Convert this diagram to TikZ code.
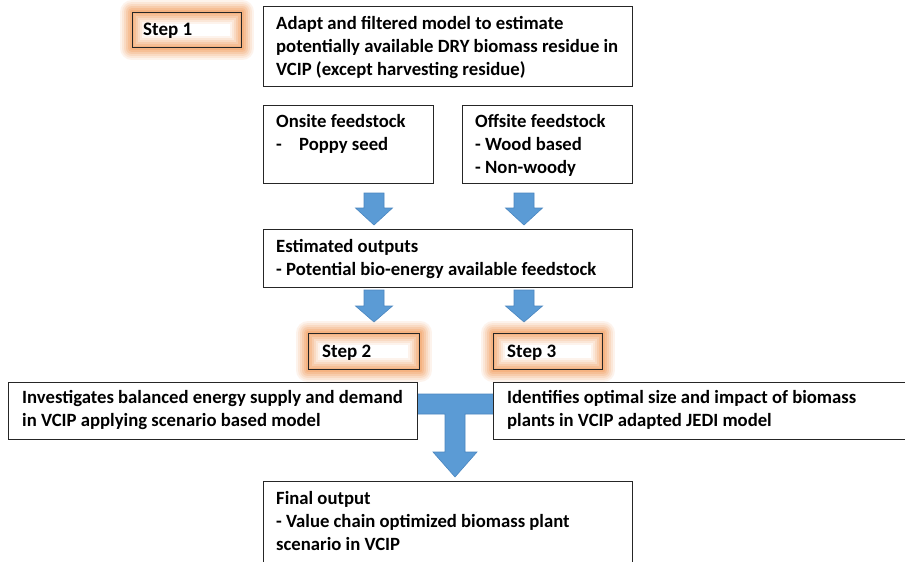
\documentclass[tikz,border=0pt]{standalone}
\usepackage{fontspec}
\setmainfont{Carlito}
\usetikzlibrary{calc}
\definecolor{arrowblue}{HTML}{5B9BD5}
\definecolor{arrowedge}{HTML}{4A86C0}
\definecolor{glow}{HTML}{F4A265}
\definecolor{boxline}{HTML}{262626}

\tikzset{
  box/.style={draw=boxline, line width=1.3pt, fill=white, rectangle, inner sep=0pt, anchor=north west},
  stepframe/.style={box, fill=none},
  txt/.style={anchor=north west, inner sep=0pt, align=left, font=\fontsize{18.7}{23}\selectfont\bfseries},
  steptxt/.style={anchor=north west, inner sep=0pt, font=\fontsize{19}{23}\selectfont\bfseries},
  blockarrow/.style={fill=arrowblue, draw=arrowedge, line width=0.6pt, line join=miter},
}

% soft orange glow drawn round a named step box
\newcommand{\glowbox}[1]{%
  \foreach \w/\o in {24/0.12, 20/0.14, 16/0.18, 12/0.24, 8/0.3, 4/0.4}{
    \draw[glow, line width=\w pt, opacity=\o, line join=round] (#1.north west) rectangle (#1.south east);
  }%
}
% downward block arrow: centre x, top y, head start y, tip y
\newcommand{\downblock}[4]{%
  \draw[blockarrow] (#1-10,#2) -- (#1+10,#2) -- (#1+10,#3) -- (#1+18.5,#3)
    -- (#1,#4) -- (#1-18.5,#3) -- (#1-10,#3) -- cycle;
}

\begin{document}
\begin{tikzpicture}[x=1pt,y=-1pt]
\useasboundingbox (0,0) rectangle (905,562);
\fill[white] (0,0) rectangle (905,562);

% step one and the residue model
\node[box, minimum width=109pt, minimum height=35pt] (s1) at (132,12) {};
\glowbox{s1}
\node[stepframe, minimum width=109pt, minimum height=35pt] (s1b) at (132,12) {};
\node[steptxt] (s1t) at (143,18.9) {\strut Step 1};

\node[box, minimum width=369pt, minimum height=80pt] (top) at (263,6) {};
\node[txt] (topt) at (276,13.4) {\strut Adapt and filtered model to estimate\\potentially available DRY biomass residue in\\VCIP (except harvesting residue)};

% feedstock boxes
\node[box, minimum width=170pt, minimum height=78pt] (on) at (263,105) {};
\node[txt] (ont) at (276,111.4) {\strut Onsite feedstock\\\makebox[23pt][l]{-}Poppy seed};

\node[box, minimum width=170pt, minimum height=78pt] (off) at (462,105) {};
\node[txt] (offt) at (475,111.4) {\strut Offsite feedstock\\- Wood based\\- Non-woody};

\downblock{374}{193}{208}{225}
\downblock{524}{193}{208}{225}

% estimated outputs
\node[box, minimum width=369pt, minimum height=58pt] (est) at (263,229) {};
\node[txt] (estt) at (276,236.4) {\strut Estimated outputs\\- Potential bio-energy available feedstock};

\downblock{374}{290}{306}{322}
\downblock{524}{290}{306}{322}

% steps two and three
\node[box, minimum width=111pt, minimum height=36pt] (s2) at (308,333) {};
\glowbox{s2}
\node[stepframe, minimum width=111pt, minimum height=36pt] (s2b) at (308,333) {};
\node[steptxt] (s2t) at (322,341.4) {\strut Step 2};

\node[box, minimum width=109pt, minimum height=36pt] (s3) at (493,333) {};
\glowbox{s3}
\node[stepframe, minimum width=109pt, minimum height=36pt] (s3b) at (493,333) {};
\node[steptxt] (s3t) at (507,341.4) {\strut Step 3};

% T-shaped joining arrow
\draw[blockarrow] (417,394) -- (494,394) -- (494,414) -- (465,414) -- (465,452)
  -- (477,452) -- (455,477) -- (433,452) -- (445,452) -- (445,414) -- (417,414) -- cycle;

\node[box, minimum width=409pt, minimum height=57pt] (inv) at (8,382) {};
\node[txt] (invt) at (22,387.4) {\strut Investigates balanced energy supply and demand\\in VCIP applying scenario based model};

\node[box, minimum width=414pt, minimum height=57pt] (idf) at (493,382) {};
\node[txt] (idft) at (507,387.4) {\strut Identifies optimal size and impact of biomass\\plants in VCIP adapted JEDI model};

% final output
\node[box, minimum width=369pt, minimum height=86pt] (fin) at (263,481) {};
\node[txt] (fint) at (276,488.4) {\strut Final output\\- Value chain optimized biomass plant\\scenario in VCIP};
\end{tikzpicture}
\end{document}
